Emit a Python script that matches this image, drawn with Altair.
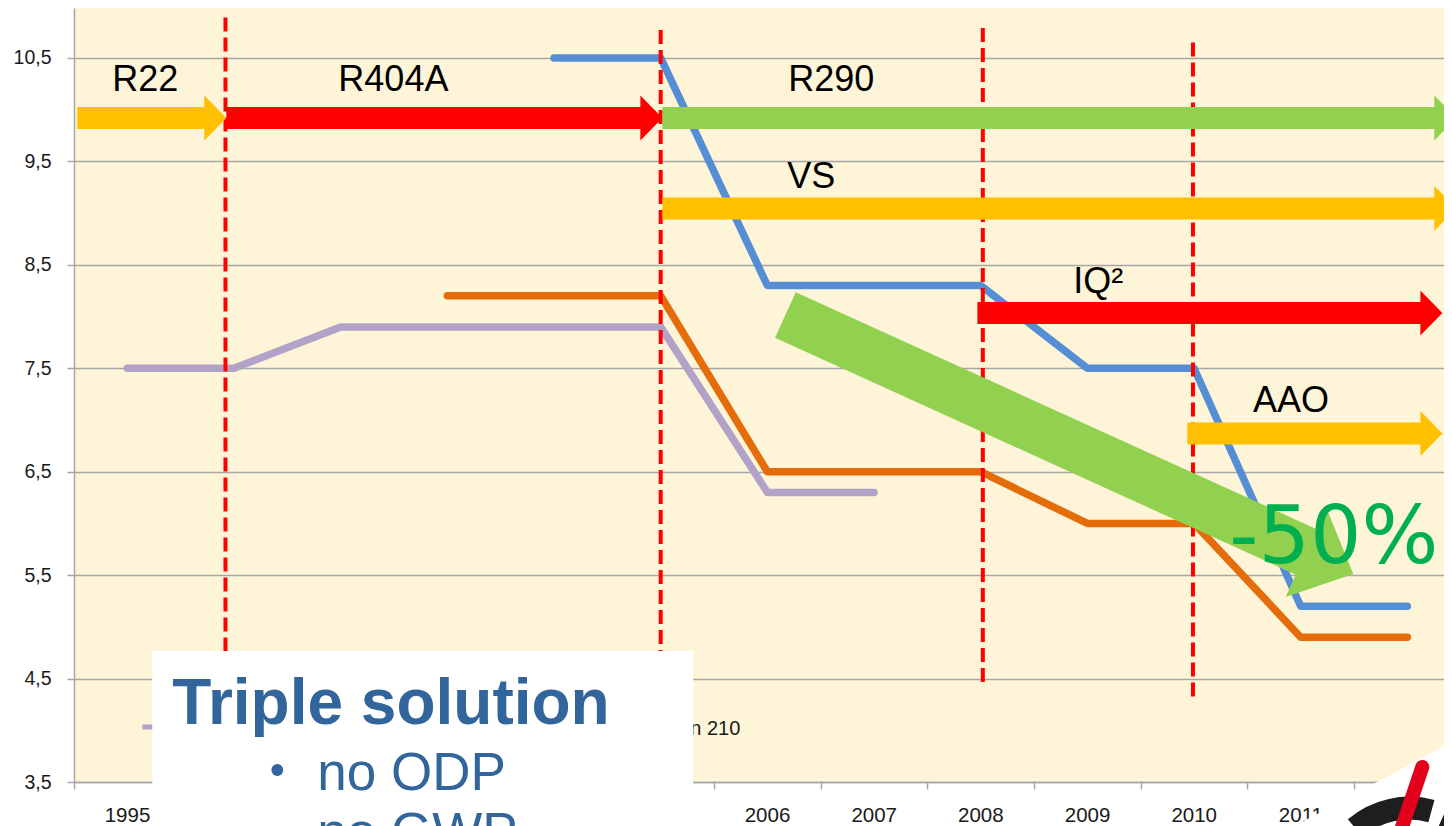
import altair as alt
import pandas as pd

# ---------------- data ----------------
# labels of categories 1..5 are hidden behind the text box in the reference
years = ["1995", "", "", "", "", "", "2006",
         "2007", "2008", "2009", "2010", "2011", "2012"]
series_names = ["Purple", "Orange", "Blue"]
purple_vals = [7.5, 7.5, 7.9, 7.9, 7.9, 7.9, 6.3, 6.3, None, None, None, None, None]
orange_vals = [None, None, None, 8.2, 8.2, 8.2, 6.5, 6.5, 6.5, 6.0, 6.0, 4.9, 4.9]
blue_vals = [None, None, None, None, 10.5, 10.5, 8.3, 8.3, 8.3, 7.5, 7.5, 5.2, 5.2]
series_colors = ["#B3A2C7", "#E46C0A", "#558ED5"]

y_ticks = [3.5, 4.5, 5.5, 6.5, 7.5, 8.5, 9.5, 10.5]

# red dashed milestone markers (category-index units)
vline_x = [0.92, 5.0, 8.02, 9.99]
vline_top = [10.89, 10.77, 10.79, 10.65]
vline_bottom = [4.3, 4.6, 4.41, 4.29]

# technology arrows
arrow_labels = ["R22", "R404A", "R290", "VS", "IQ²", "AAO"]
arrow_start = [-0.469, 0.928, 5.016, 5.016, 7.969, 9.937]
arrow_tip = [0.928, 5.016, 12.459, 12.459, 12.328, 12.328]
arrow_y = [9.92, 9.92, 9.92, 9.045, 8.034, 6.869]
arrow_colors = ["#FFC000", "#FF0000", "#92D050", "#FFC000", "#FF0000", "#FFC000"]
label_x = [0.169, 2.494, 6.600, 6.412, 9.103, 10.908]
label_y = [10.181, 10.181, 10.181, 9.243, 8.228, 7.077]

# big trend arrow
trend_x = [6.169, 11.053]
trend_y = [8.015, 5.724]
trend_tip_x = [11.493]
trend_tip_y = [5.511]
trend_angle = 24.5

pct_text = ["-50%"]
pct_x = [10.33]
pct_y = [5.617]

# legend fragment
legend_line_x = [0.141, 0.30]
legend_line_y = [4.032, 4.032]
legend_text = ["Generation 210"]
legend_text_x = [5.747]
legend_text_y = [3.954]

# text box
box_x = [0.234]
box_x2 = [5.305]
box_y = [4.767]
box_y2 = [2.9]
box_title = ["Triple solution"]
box_title_x = [0.422]
box_title_y = [4.061]
bullet_x = [1.406]
bullet_y = [3.616]
bullet_items = ["no ODP", "no GWP"]
bullet_items_x = [1.781, 1.781]
bullet_items_y = [3.423, 2.843]

# logo corner
corner_x = [10.8, 12.49]
corner_y = [2.997, 3.925]
corner_y2 = [2.9, 2.9]
needle_x = [12.14, 11.925]
needle_y = [3.645, 2.988]
ring_x = [12.019]
ring_y = [2.44]

# ---------------- scales / axes ----------------
PX_PER_IDX = 106.67
VIEW_W = 1370
X_DOMAIN = [-0.5, -0.5 + VIEW_W / PX_PER_IDX]
Y_DOMAIN = [3.5, 10.983]
GRID = "#A6A6A6"
xscale = alt.Scale(domain=X_DOMAIN, nice=False, zero=False)
yscale = alt.Scale(domain=Y_DOMAIN, nice=False, zero=False)

year_arr = "[" + ",".join("'%s'" % y for y in years) + "]"
xaxis = alt.Axis(values=[i - 0.5 for i in range(len(years))],
                 labelExpr=year_arr + "[round(datum.value + 0.5)]",
                 labelOffset=53, labelFlush=False, labelOverlap=False,
                 grid=False, tickSize=7, tickColor=GRID, tickWidth=1.5,
                 domainColor=GRID, domainWidth=1.5,
                 labelFont="Liberation Sans", labelFontSize=20.5, labelColor="#1a1a1a",
                 labelPadding=16, labelBaseline="top", title=None)
yaxis = alt.Axis(values=y_ticks,
                 labelExpr="replace(format(datum.value, '.1f'), '.', ',')",
                 grid=True, gridColor=GRID, gridWidth=1.5,
                 tickSize=7, tickColor=GRID, tickWidth=1.5,
                 domainColor=GRID, domainWidth=1.5,
                 labelFont="Liberation Sans", labelFontSize=19.5, labelColor="#1a1a1a",
                 labelPadding=16, title=None)


def X(f):
    return alt.X(f, type="quantitative", scale=xscale, axis=xaxis)


def Y(f):
    return alt.Y(f, type="quantitative", scale=yscale, axis=yaxis)


# ---------------- frames ----------------
rows = []
for name, vals in zip(series_names, [purple_vals, orange_vals, blue_vals]):
    for i, v in enumerate(vals):
        if v is not None:
            rows.append({"idx": i, "value": v, "series": name})
df_lines = pd.DataFrame(rows)

df_v = pd.DataFrame({"x": vline_x, "top": vline_top, "bottom": vline_bottom})
df_arrows = pd.DataFrame({"label": arrow_labels, "start": arrow_start, "tip": arrow_tip,
                          "y": arrow_y, "color": arrow_colors,
                          "lx": label_x, "ly": label_y})
df_trend = pd.DataFrame({"x": trend_x, "y": trend_y, "o": [0, 1]})
df_trend_tip = pd.DataFrame({"x": trend_tip_x, "y": trend_tip_y})
df_pct = pd.DataFrame({"t": pct_text, "x": pct_x, "y": pct_y})
df_leg_line = pd.DataFrame({"x": legend_line_x, "y": legend_line_y})
df_leg_text = pd.DataFrame({"t": legend_text, "x": legend_text_x, "y": legend_text_y})
df_box = pd.DataFrame({"x": box_x, "x2": box_x2, "y": box_y, "y2": box_y2})
df_box_title = pd.DataFrame({"t": box_title, "x": box_title_x, "y": box_title_y})
df_bullet = pd.DataFrame({"x": bullet_x, "y": bullet_y})
df_items = pd.DataFrame({"t": bullet_items, "x": bullet_items_x, "y": bullet_items_y})
df_corner = pd.DataFrame({"x": corner_x, "y": corner_y, "y2": corner_y2})
df_needle = pd.DataFrame({"x": needle_x, "y": needle_y, "o": [0, 1]})
df_ring = pd.DataFrame({"x": ring_x, "y": ring_y})

BLUE_TXT = "#31659C"
HEAD = "M 0 0 L -0.978 -1 L -0.978 1 Z"
BIG_HEAD = "M 0 0 L -1.04 -0.98 L -1.04 0.98 Z"

# ---------------- layers ----------------
lines = alt.Chart(df_lines).mark_line(strokeWidth=7.5, strokeCap="round", strokeJoin="round").encode(
    x=X("idx"), y=Y("value"),
    color=alt.Color("series:N", scale=alt.Scale(domain=series_names, range=series_colors), legend=None),
    order="idx:Q")

vlines = alt.Chart(df_v).mark_rule(color="#FF0000", strokeWidth=4, strokeDash=[14, 6]).encode(
    x=X("x"), y=Y("top"), y2="bottom")

shafts = alt.Chart(df_arrows).mark_rule(strokeWidth=22, strokeCap="butt", x2Offset=-20).encode(
    x=X("start"), x2="tip", y=Y("y"), color=alt.Color("color:N", scale=None))
heads = alt.Chart(df_arrows).mark_point(shape=HEAD, size=2025, filled=True, opacity=1, strokeWidth=0).encode(
    x=X("tip"), y=Y("y"), color=alt.Color("color:N", scale=None))
arrow_text = alt.Chart(df_arrows).mark_text(font="Liberation Sans", fontSize=36, color="#000000",
                                            align="center", baseline="alphabetic").encode(
    x=X("lx"), y=Y("ly"), text="label:N")

trend = alt.Chart(df_trend).mark_line(strokeWidth=50, strokeCap="butt", color="#92D050").encode(
    x=X("x"), y=Y("y"), order="o:Q")
trend_head = alt.Chart(df_trend_tip).mark_point(shape=BIG_HEAD, size=10000, angle=trend_angle, filled=True,
                                                opacity=1, strokeWidth=0, color="#92D050").encode(
    x=X("x"), y=Y("y"))
pct = alt.Chart(df_pct).mark_text(font="DejaVu Sans", fontSize=81, color="#00B050",
                                  align="left", baseline="alphabetic").encode(
    x=X("x"), y=Y("y"), text="t:N")

leg_line = alt.Chart(df_leg_line).mark_line(strokeWidth=5, color="#B3A2C7").encode(x=X("x"), y=Y("y"))
leg_text = alt.Chart(df_leg_text).mark_text(font="Liberation Sans", fontSize=20, color="#1a1a1a",
                                            align="right", baseline="alphabetic").encode(
    x=X("x"), y=Y("y"), text="t:N")

box = alt.Chart(df_box).mark_rect(color="#FFFFFF").encode(x=X("x"), x2="x2", y=Y("y"), y2="y2")
box_title_l = alt.Chart(df_box_title).mark_text(font="Liberation Sans", fontSize=64, fontWeight="bold",
                                                color=BLUE_TXT, align="left", baseline="alphabetic").encode(
    x=X("x"), y=Y("y"), text="t:N")
bullet = alt.Chart(df_bullet).mark_point(shape="circle", size=140, filled=True, opacity=1,
                                         strokeWidth=0, color=BLUE_TXT).encode(x=X("x"), y=Y("y"))
items = alt.Chart(df_items).mark_text(font="Liberation Sans", fontSize=53, color=BLUE_TXT,
                                      align="left", baseline="alphabetic").encode(
    x=X("x"), y=Y("y"), text="t:N")

corner = alt.Chart(df_corner).mark_area(color="#FFFFFF", opacity=1).encode(x=X("x"), y=Y("y"), y2="y2")
ring1 = alt.Chart(df_ring).mark_arc(theta=5.578, theta2=6.55, outerRadius=95, innerRadius=72,
                                    color="#1E1E1E").encode(x=X("x"), y=Y("y"))
ring2 = alt.Chart(df_ring).mark_arc(theta=0.42, theta2=1.0, outerRadius=95, innerRadius=72,
                                    color="#1E1E1E").encode(x=X("x"), y=Y("y"))
needle = alt.Chart(df_needle).mark_line(strokeWidth=14, strokeCap="round", color="#E2001A").encode(
    x=X("x"), y=Y("y"), order="o:Q")

chart = alt.layer(
    lines, vlines, shafts, heads, arrow_text, trend, trend_head, pct,
    leg_line, leg_text, box, box_title_l, bullet, items,
    corner, ring1, ring2, needle
).properties(
    width=VIEW_W, height=774,
    autosize=alt.AutoSizeParams(type="none"),
    padding={"left": 66, "top": 0, "right": 0, "bottom": 44},
    background="#FFFFFF"
).configure_view(fill="#FEF4D7", stroke=None)

chart.save("out.html", embed_options={"renderer": "svg", "actions": False})
